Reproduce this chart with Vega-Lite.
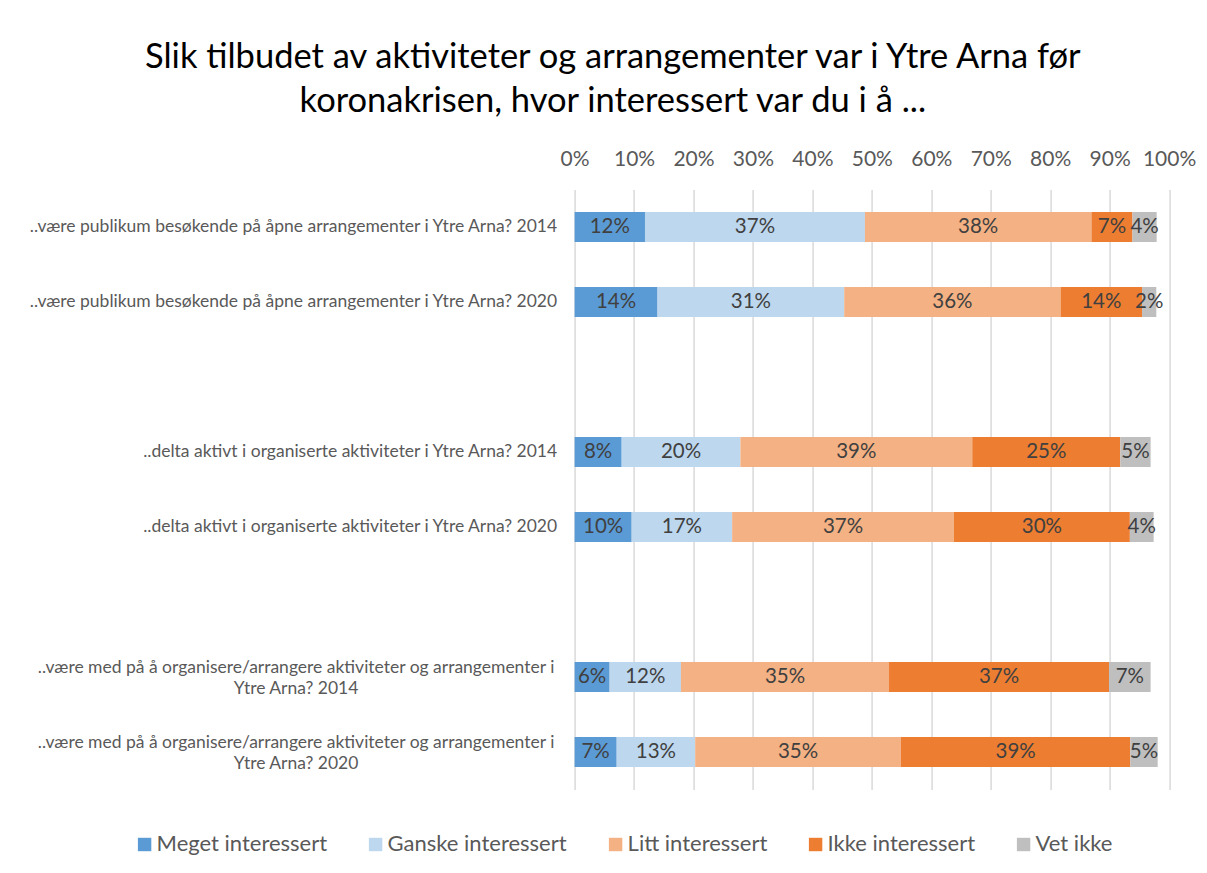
{
  "$schema": "https://vega.github.io/schema/vega-lite/v6.json",
  "autosize": {"type": "none"},
  "width": 594.5,
  "height": 600,
  "padding": {"left": 574.6, "top": 189.5, "right": 38, "bottom": 83.5},
  "background": "white",
  "title": {
    "text": ["Slik tilbudet av aktiviteter og arrangementer var i Ytre Arna før", "koronakrisen, hvor interessert var du i å ..."],
    "font": "Lato",
    "fontSize": 34.5,
    "fontWeight": "normal",
    "color": "#000000",
    "anchor": "middle",
    "frame": "group",
    "dx": -259,
    "lineHeight": 44.5,
    "offset": 29
  },
  "data": {
    "values": [
      {"q": "..være publikum besøkende på åpne arrangementer i Ytre Arna? 2014", "svar": "Meget interessert", "o": 1, "v": 0.1184},
      {"q": "..være publikum besøkende på åpne arrangementer i Ytre Arna? 2014", "svar": "Ganske interessert", "o": 2, "v": 0.370},
      {"q": "..være publikum besøkende på åpne arrangementer i Ytre Arna? 2014", "svar": "Litt interessert", "o": 3, "v": 0.381},
      {"q": "..være publikum besøkende på åpne arrangementer i Ytre Arna? 2014", "svar": "Ikke interessert", "o": 4, "v": 0.069},
      {"q": "..være publikum besøkende på åpne arrangementer i Ytre Arna? 2014", "svar": "Vet ikke", "o": 5, "v": 0.0407},
      {"q": "..være publikum besøkende på åpne arrangementer i Ytre Arna? 2020", "svar": "Meget interessert", "o": 1, "v": 0.1395},
      {"q": "..være publikum besøkende på åpne arrangementer i Ytre Arna? 2020", "svar": "Ganske interessert", "o": 2, "v": 0.314},
      {"q": "..være publikum besøkende på åpne arrangementer i Ytre Arna? 2020", "svar": "Litt interessert", "o": 3, "v": 0.364},
      {"q": "..være publikum besøkende på åpne arrangementer i Ytre Arna? 2020", "svar": "Ikke interessert", "o": 4, "v": 0.137},
      {"q": "..være publikum besøkende på åpne arrangementer i Ytre Arna? 2020", "svar": "Vet ikke", "o": 5, "v": 0.024},
      {"q": "..delta aktivt i organiserte aktiviteter i Ytre Arna? 2014", "svar": "Meget interessert", "o": 1, "v": 0.0792},
      {"q": "..delta aktivt i organiserte aktiviteter i Ytre Arna? 2014", "svar": "Ganske interessert", "o": 2, "v": 0.1997},
      {"q": "..delta aktivt i organiserte aktiviteter i Ytre Arna? 2014", "svar": "Litt interessert", "o": 3, "v": 0.390},
      {"q": "..delta aktivt i organiserte aktiviteter i Ytre Arna? 2014", "svar": "Ikke interessert", "o": 4, "v": 0.249},
      {"q": "..delta aktivt i organiserte aktiviteter i Ytre Arna? 2014", "svar": "Vet ikke", "o": 5, "v": 0.051},
      {"q": "..delta aktivt i organiserte aktiviteter i Ytre Arna? 2020", "svar": "Meget interessert", "o": 1, "v": 0.096},
      {"q": "..delta aktivt i organiserte aktiviteter i Ytre Arna? 2020", "svar": "Ganske interessert", "o": 2, "v": 0.169},
      {"q": "..delta aktivt i organiserte aktiviteter i Ytre Arna? 2020", "svar": "Litt interessert", "o": 3, "v": 0.373},
      {"q": "..delta aktivt i organiserte aktiviteter i Ytre Arna? 2020", "svar": "Ikke interessert", "o": 4, "v": 0.296},
      {"q": "..delta aktivt i organiserte aktiviteter i Ytre Arna? 2020", "svar": "Vet ikke", "o": 5, "v": 0.040},
      {"q": "..være med på å organisere/arrangere aktiviteter og arrangementer i|Ytre Arna? 2014", "svar": "Meget interessert", "o": 1, "v": 0.0589},
      {"q": "..være med på å organisere/arrangere aktiviteter og arrangementer i|Ytre Arna? 2014", "svar": "Ganske interessert", "o": 2, "v": 0.120},
      {"q": "..være med på å organisere/arrangere aktiviteter og arrangementer i|Ytre Arna? 2014", "svar": "Litt interessert", "o": 3, "v": 0.350},
      {"q": "..være med på å organisere/arrangere aktiviteter og arrangementer i|Ytre Arna? 2014", "svar": "Ikke interessert", "o": 4, "v": 0.370},
      {"q": "..være med på å organisere/arrangere aktiviteter og arrangementer i|Ytre Arna? 2014", "svar": "Vet ikke", "o": 5, "v": 0.070},
      {"q": "..være med på å organisere/arrangere aktiviteter og arrangementer i|Ytre Arna? 2020", "svar": "Meget interessert", "o": 1, "v": 0.0708},
      {"q": "..være med på å organisere/arrangere aktiviteter og arrangementer i|Ytre Arna? 2020", "svar": "Ganske interessert", "o": 2, "v": 0.132},
      {"q": "..være med på å organisere/arrangere aktiviteter og arrangementer i|Ytre Arna? 2020", "svar": "Litt interessert", "o": 3, "v": 0.346},
      {"q": "..være med på å organisere/arrangere aktiviteter og arrangementer i|Ytre Arna? 2020", "svar": "Ikke interessert", "o": 4, "v": 0.386},
      {"q": "..være med på å organisere/arrangere aktiviteter og arrangementer i|Ytre Arna? 2020", "svar": "Vet ikke", "o": 5, "v": 0.046}
    ]
  },
  "encoding": {
    "y": {
      "field": "q",
      "type": "nominal",
      "title": null,
      "scale": {
        "domain": [
          "..være publikum besøkende på åpne arrangementer i Ytre Arna? 2014",
          "..være publikum besøkende på åpne arrangementer i Ytre Arna? 2020",
          " ",
          "..delta aktivt i organiserte aktiviteter i Ytre Arna? 2014",
          "..delta aktivt i organiserte aktiviteter i Ytre Arna? 2020",
          "  ",
          "..være med på å organisere/arrangere aktiviteter og arrangementer i|Ytre Arna? 2014",
          "..være med på å organisere/arrangere aktiviteter og arrangementer i|Ytre Arna? 2020"
        ],
        "paddingInner": 0.6,
        "paddingOuter": 0.3
      },
      "axis": {
        "domain": false,
        "ticks": false,
        "labelExpr": "split(datum.label, '|')",
        "labelFont": "Lato",
        "labelFontSize": 17.5,
        "labelColor": "#595959",
        "labelLimit": 800,
        "labelLineHeight": 21,
        "labelAlign": {"condition": {"test": "indexof(datum.value, '|') >= 0", "value": "center"}, "value": "right"},
        "labelPadding": {"condition": {"test": "indexof(datum.value, '|') >= 0", "value": 279}, "value": 18},
        "labelOffset": {"condition": {"test": "indexof(datum.value, '|') >= 0", "value": -9}, "value": 0}
      }
    }
  },
  "layer": [
    {
      "mark": {"type": "bar"},
      "encoding": {
        "x": {
          "field": "v",
          "type": "quantitative",
          "stack": "zero",
          "title": null,
          "scale": {"domain": [0, 1], "nice": false},
          "axis": {
            "orient": "top",
            "format": ".0%",
            "values": [0, 0.1, 0.2, 0.3, 0.4, 0.5, 0.6, 0.7, 0.8, 0.9, 1],
            "domain": false,
            "ticks": false,
            "grid": true,
            "gridColor": "#d9d9d9",
            "gridWidth": 1.5,
            "labelFont": "Lato",
            "labelFontSize": 21,
            "labelColor": "#595959",
            "labelPadding": 20,
            "labelFlush": false
          }
        },
        "color": {
          "field": "svar",
          "type": "nominal",
          "scale": {
            "domain": ["Meget interessert", "Ganske interessert", "Litt interessert", "Ikke interessert", "Vet ikke"],
            "range": ["#5B9BD5", "#BDD7EE", "#F4B183", "#ED7D31", "#BFBFBF"]
          },
          "legend": {
            "title": null,
            "orient": "none",
            "direction": "horizontal",
            "legendX": -441,
            "legendY": 644,
            "symbolType": "square",
            "symbolSize": 180,
            "symbolStrokeWidth": 0,
            "labelFont": "Lato",
            "labelFontSize": 22,
            "labelLimit": 400,
            "labelColor": "#595959",
            "labelOffset": 1,
            "columnPadding": 37,
            "padding": 0
          }
        },
        "order": {"field": "o", "type": "quantitative"}
      }
    },
    {
      "mark": {"type": "text", "font": "Lato", "fontSize": 20.5, "color": "#404040", "baseline": "middle", "align": "center"},
      "encoding": {
        "x": {"field": "v", "type": "quantitative", "stack": "zero", "bandPosition": 0.5},
        "text": {"field": "v", "type": "quantitative", "format": ".0%"},
        "order": {"field": "o", "type": "quantitative"}
      }
    }
  ],
  "config": {
    "view": {"stroke": null},
    "axis": {"gridColor": "#d9d9d9"}
  }
}
